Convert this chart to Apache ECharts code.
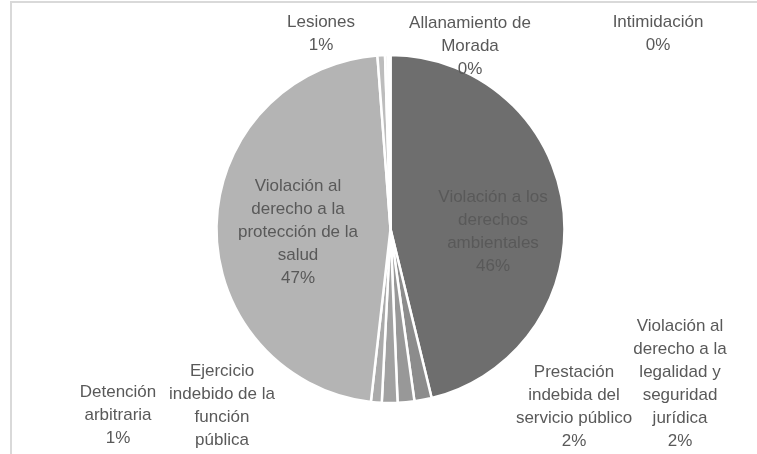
<!DOCTYPE html>
<html>
<head>
<meta charset="utf-8">
<script src="https://cdn.jsdelivr.net/npm/echarts@6/dist/echarts.min.js"></script>
<style>
html,body{margin:0;padding:0;background:#fff;}
#chart{width:757px;height:454px;}
</style>
</head>
<body>
<div id="chart"></div>
<script>
// Data (percent shares)
const categories = [
  'Violación a los\nderechos\nambientales',
  'Violación al\nderecho a la\nlegalidad y\nseguridad\njurídica',
  'Prestación\nindebida del\nservicio público',
  'Ejercicio\nindebido de la\nfunción\npública',
  'Detención\narbitraria',
  'Violación al\nderecho a la\nprotección de la\nsalud',
  'Lesiones',
  'Allanamiento de\nMorada',
  'Intimidación'
];
const values = [46.2, 1.6, 1.55, 1.45, 1.0, 47.0, 0.7, 0.3, 0.2];

// Styling (kept apart from data)
const sliceColors = ['#6e6e6e', '#8c8c8c', '#989898', '#a1a1a1', '#aaaaaa', '#b4b4b4', '#bdbdbd', '#f2f2f2', '#fafafa'];
const labelSpots = [
  [493, 232], [680, 384], [574, 407], [222, 417], [118, 415],
  [298, 232], [321, 34], [470, 46], [658, 34]
];

const chart = echarts.init(document.getElementById('chart'), null, {renderer: 'canvas'});
chart.setOption({
  backgroundColor: '#ffffff',
  animation: false,
  graphic: [{
    type: 'rect',
    shape: {x: 11, y: 2, width: 900, height: 600},
    style: {fill: 'none', stroke: '#d9d9d9', lineWidth: 2},
    silent: true
  }],
  series: [{
    type: 'pie',
    center: [390.5, 229],
    radius: [0, 174],
    startAngle: 90,
    clockwise: true,
    percentPrecision: 0,
    avoidLabelOverlap: false,
    data: categories.map((name, i) => ({
      name: name,
      value: values[i],
      itemStyle: {color: sliceColors[i]}
    })),
    itemStyle: {borderColor: '#ffffff', borderWidth: 2.5},
    label: {
      show: true,
      position: 'outside',
      formatter: '{b}\n{d}%',
      fontFamily: 'Liberation Sans',
      fontSize: 17,
      lineHeight: 23,
      color: '#595959',
      align: 'center'
    },
    labelLine: {show: false},
    emphasis: {disabled: true}
  }],
});
chart.setOption({
  series: [{
    labelLayout: function (params) {
      const p = labelSpots[params.dataIndex];
      return {x: p[0], y: p[1], align: 'center', verticalAlign: 'middle'};
    }
  }]
});
</script>
</body>
</html>
